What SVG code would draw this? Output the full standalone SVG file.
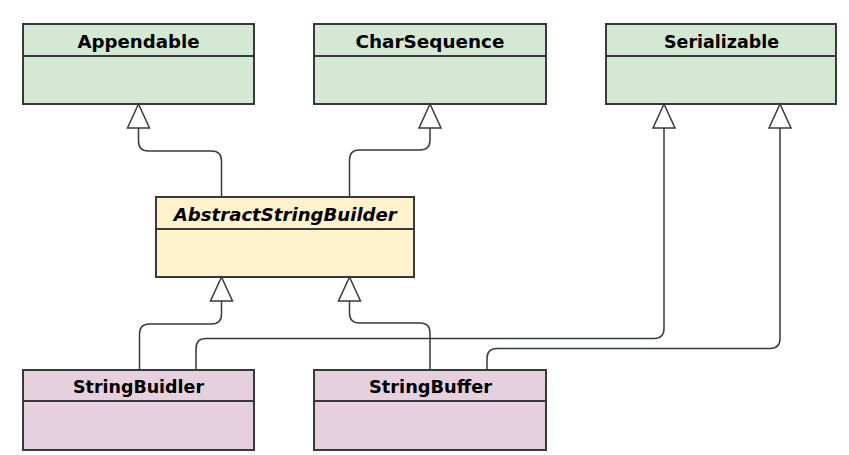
<svg xmlns="http://www.w3.org/2000/svg" width="849" height="455" viewBox="0 0 849 455">
<defs>
<style>
.box{stroke:#36393d;stroke-width:2}
.div{stroke:#36393d;stroke-width:2;fill:none}
.green{fill:#d5e8d4}
.yellow{fill:#fff2cc}
.pink{fill:#e6d0de}
.t{font-family:"DejaVu Sans",Verdana,sans-serif;font-weight:bold;font-size:17px;fill:#000;text-anchor:middle}
.it{font-style:italic}
.edge{fill:none;stroke:#36393d;stroke-width:1.5}
.arrow{fill:#fff;stroke:#36393d;stroke-width:1.5}
</style>
</defs>
<rect width="849" height="455" fill="#fff"/>
<g id="Appendable">
<rect class="box green" x="23" y="24" width="231" height="80"/>
<line class="div" x1="23" y1="56" x2="254" y2="56"/>
<text class="t" x="138.5" y="47.5" textLength="122" lengthAdjust="spacingAndGlyphs">Appendable</text>
</g>
<g id="CharSequence">
<rect class="box green" x="314" y="24" width="232" height="80"/>
<line class="div" x1="314" y1="56" x2="546" y2="56"/>
<text class="t" x="430" y="47.5" textLength="149" lengthAdjust="spacingAndGlyphs">CharSequence</text>
</g>
<g id="Serializable">
<rect class="box green" x="606" y="24" width="230" height="80"/>
<line class="div" x1="606" y1="56" x2="836" y2="56"/>
<text class="t" x="721.5" y="47.5" textLength="115" lengthAdjust="spacingAndGlyphs">Serializable</text>
</g>
<g id="AbstractStringBuilder">
<rect class="box yellow" x="156" y="197" width="258" height="80"/>
<line class="div" x1="156" y1="229" x2="414" y2="229"/>
<text class="t it" x="285.3" y="220.5" textLength="223" lengthAdjust="spacingAndGlyphs">AbstractStringBuilder</text>
</g>
<g id="StringBuidler">
<rect class="box pink" x="23" y="370" width="231" height="80"/>
<line class="div" x1="23" y1="401" x2="254" y2="401"/>
<text class="t" x="138.5" y="392.5" textLength="131" lengthAdjust="spacingAndGlyphs">StringBuidler</text>
</g>
<g id="StringBuffer">
<rect class="box pink" x="314" y="370" width="232" height="80"/>
<line class="div" x1="314" y1="401" x2="546" y2="401"/>
<text class="t" x="430.5" y="392.5" textLength="123" lengthAdjust="spacingAndGlyphs">StringBuffer</text>
</g>
<g id="connectors">
<path class="edge" d="M221.5 197 V161 Q221.5 151 211.5 151 H148.5 Q138.5 151 138.5 141 V128"/>
<path class="arrow" d="M138.5 104 L149.5 128 H127.5 Z"/>
<path class="edge" d="M349.5 197 V160 Q349.5 150 359.5 150 H420 Q430 150 430 140 V128"/>
<path class="arrow" d="M430 104 L441 128 H419 Z"/>
<path class="edge" d="M139.5 370 V334 Q139.5 324 149.5 324 H211.5 Q221.5 324 221.5 314 V301"/>
<path class="arrow" d="M221.5 277 L232.5 301 H210.5 Z"/>
<path class="edge" d="M430 370 V333 Q430 323 420 323 H359.5 Q349.5 323 349.5 313 V301"/>
<path class="arrow" d="M349.5 277 L360.5 301 H338.5 Z"/>
<path class="edge" d="M196 370 V348.5 Q196 338.5 206 338.5 H654 Q664 338.5 664 328.5 V128"/>
<path class="arrow" d="M664 104 L675 128 H653 Z"/>
<path class="edge" d="M487 370 V358.5 Q487 348.5 497 348.5 H770 Q780 348.5 780 338.5 V128"/>
<path class="arrow" d="M780 104 L791 128 H769 Z"/>
</g>
</svg>
